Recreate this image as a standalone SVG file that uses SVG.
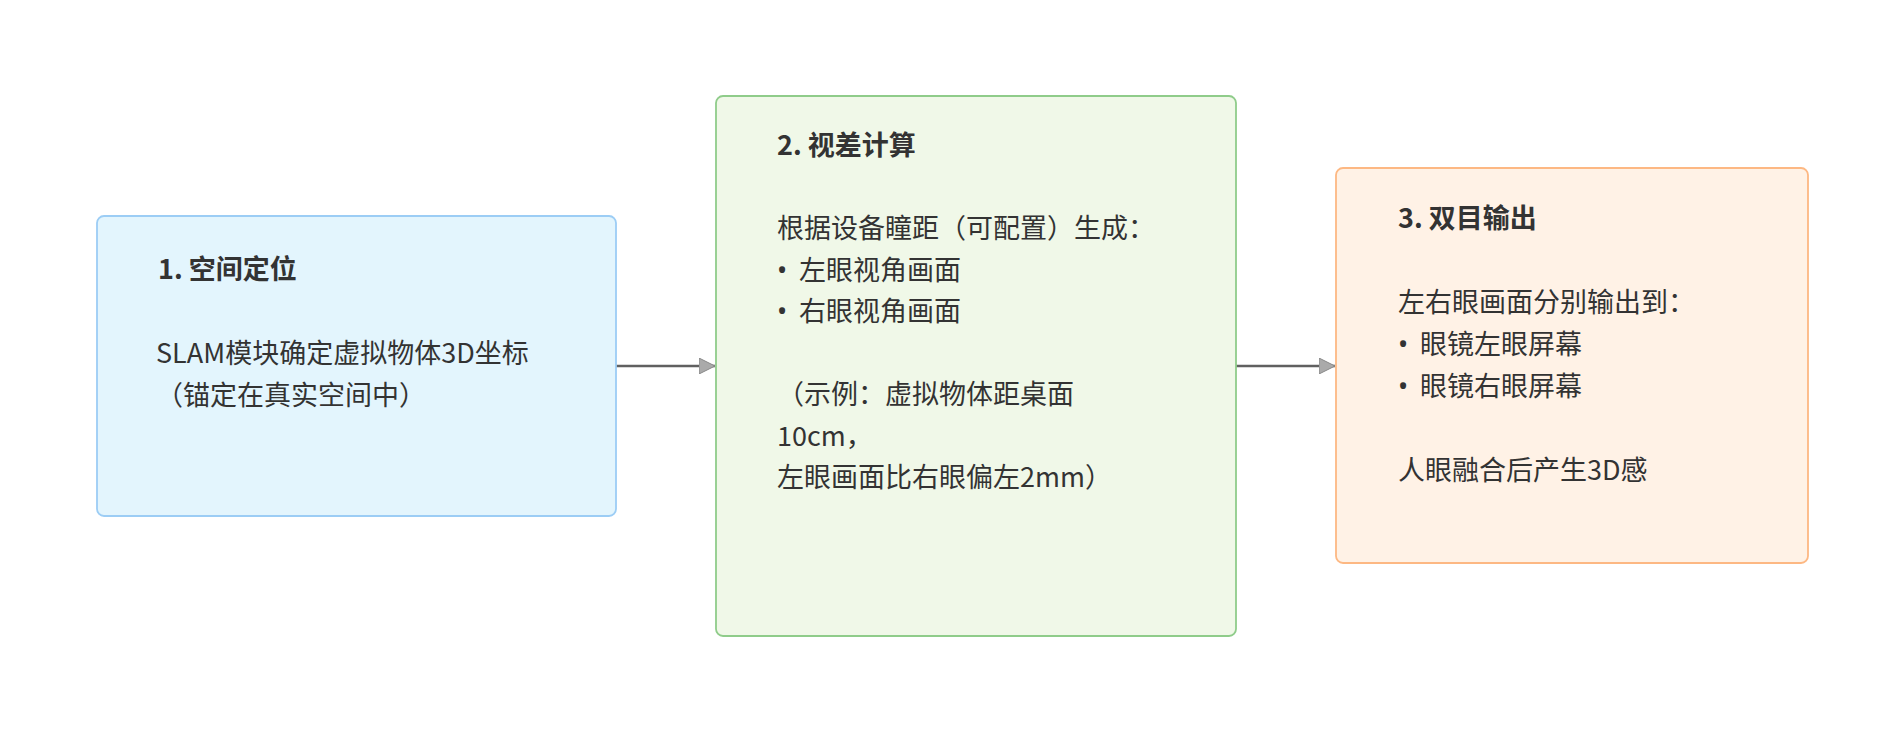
<svg xmlns="http://www.w3.org/2000/svg" width="1904" height="732" viewBox="0 0 1904 732">
<style>
.t{font-family:"Noto Sans CJK SC","Noto Sans",sans-serif;font-size:27px;fill:#333333}
.b{font-weight:bold}
.u{font-family:"Noto Sans",sans-serif}
.e{fill:none;stroke:#606060;stroke-width:2.5}
</style>
<defs>
<marker id="ah" viewBox="0 0 16 16" refX="16" refY="8" markerWidth="16" markerHeight="16" markerUnits="userSpaceOnUse" orient="auto">
<path d="M0,0 L16,8 L0,16 Z" fill="#aaaaaa" stroke="#888888" stroke-width="1"/>
</marker>
</defs>
<rect width="1904" height="732" fill="#ffffff"/>
<g id="edges">
<path class="e" d="M616,366 L715,366" marker-end="url(#ah)"/>
<path class="e" d="M1236,366 L1335,366" marker-end="url(#ah)"/>
</g>
<g id="n1">
<rect x="97" y="216" width="519" height="300" rx="7" fill="#e3f5fd" stroke="#9ccdf5" stroke-width="1.8"/>
<text class="t b" x="158" y="279">1. 空间定位</text>
<text class="t" x="156" y="363">SLAM模块确定虚拟物体3D坐标</text>
<text class="t" x="156" y="405">（锚定在真实空间中）</text>
</g>
<g id="n2">
<rect x="716" y="96" width="520" height="540" rx="7" fill="#f0f8e8" stroke="#8fcc8a" stroke-width="1.8"/>
<text class="t b" x="777" y="155">2. 视差计算</text>
<text class="t" x="777" y="238">根据设备瞳距（可配置）生成：</text>
<text class="t" x="777" y="279.5"><tspan class="u">•</tspan><tspan x="799">左眼视角画面</tspan></text>
<text class="t" x="777" y="321"><tspan class="u">•</tspan><tspan x="799">右眼视角画面</tspan></text>
<text class="t" x="777" y="404">（示例：虚拟物体距桌面</text>
<text class="t" x="777" y="445.5">10cm，</text>
<text class="t" x="777" y="487">左眼画面比右眼偏左2mm）</text>
</g>
<g id="n3">
<rect x="1336" y="168" width="472" height="395" rx="7" fill="#fff2e6" stroke="#fdb883" stroke-width="1.8"/>
<text class="t b" x="1398" y="228">3. 双目输出</text>
<text class="t" x="1398" y="312">左右眼画面分别输出到：</text>
<text class="t" x="1398" y="354"><tspan class="u">•</tspan><tspan x="1420">眼镜左眼屏幕</tspan></text>
<text class="t" x="1398" y="396"><tspan class="u">•</tspan><tspan x="1420">眼镜右眼屏幕</tspan></text>
<text class="t" x="1398" y="480">人眼融合后产生3D感</text>
</g>
</svg>
